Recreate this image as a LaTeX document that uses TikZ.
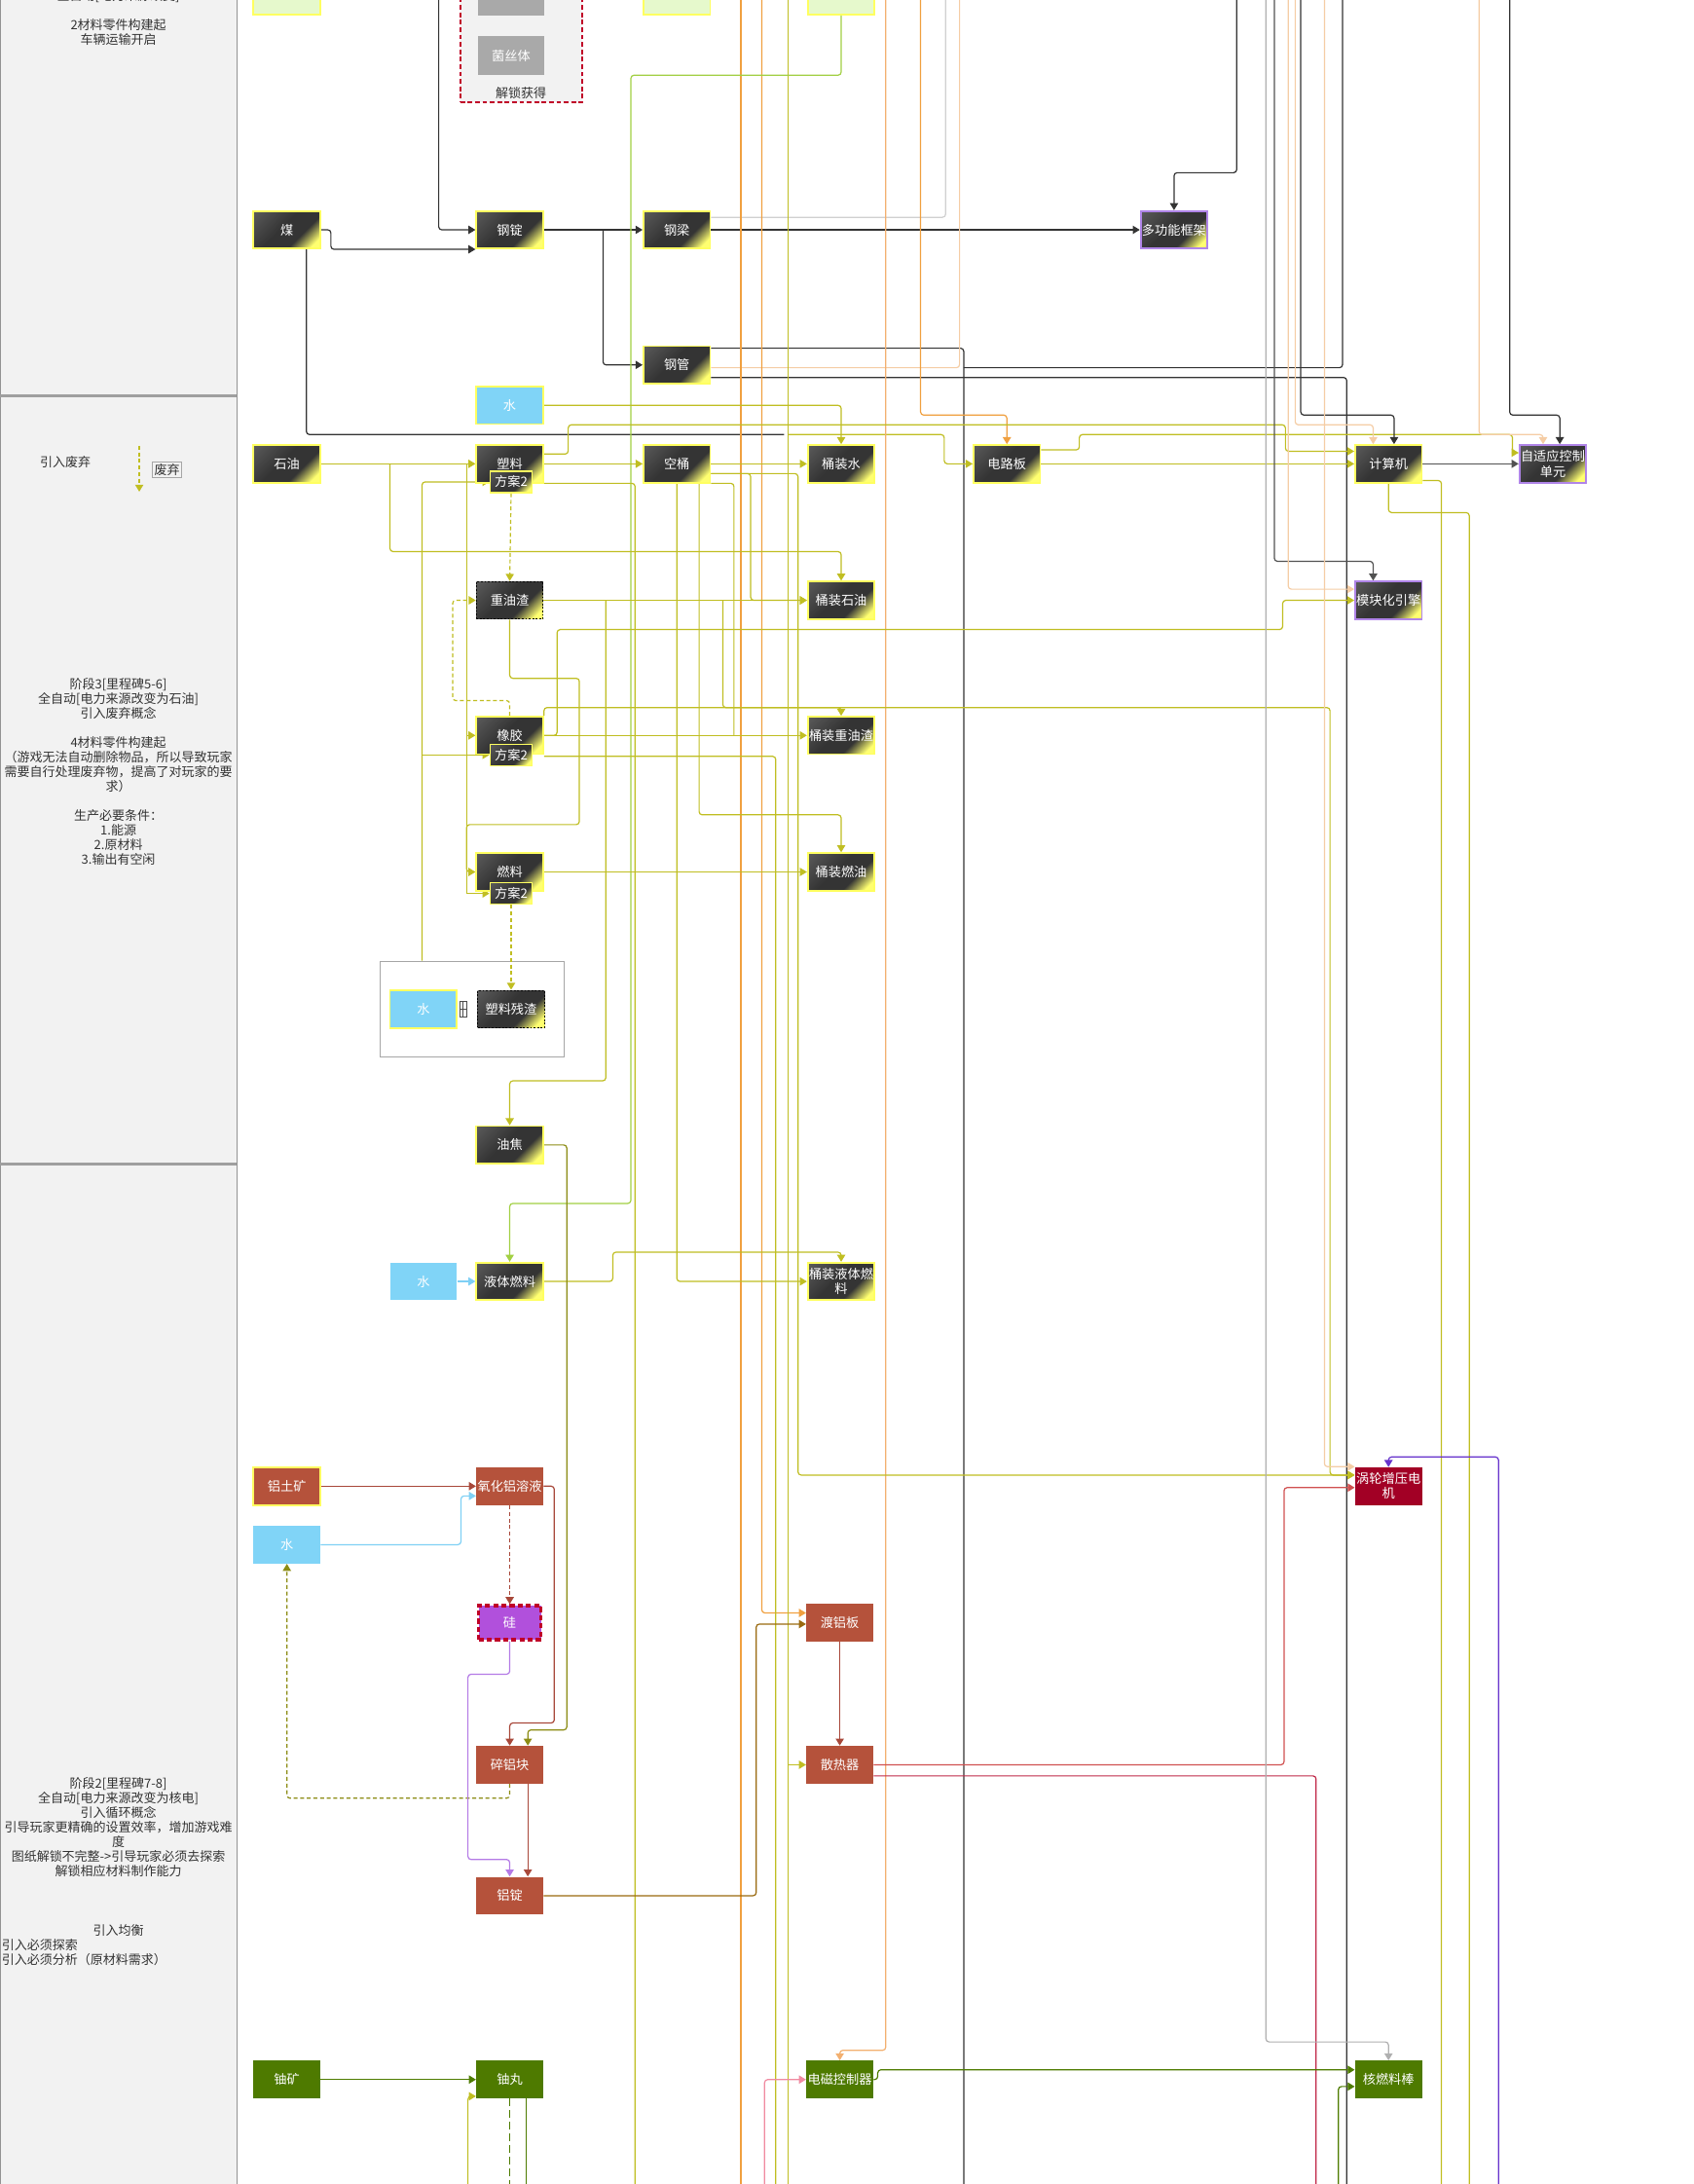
\documentclass[tikz,border=0pt]{standalone}
\usepackage{fontspec}
\newfontfamily\cjk{Noto Sans CJK SC}
\usetikzlibrary{arrows.meta,calc}
\definecolor{dkA}{HTML}{5A5A5A}
\definecolor{dkB}{HTML}{343434}
\definecolor{yelC}{HTML}{FFFF70}
\definecolor{ybord}{HTML}{FFFF60}
\definecolor{pbord}{HTML}{B085E8}
\definecolor{lgreen}{HTML}{E6F9CC}
\definecolor{wblue}{HTML}{80D4F7}
\definecolor{brnN}{HTML}{B5523B}
\definecolor{redN}{HTML}{A20025}
\definecolor{grnN}{HTML}{4E7A00}
\definecolor{siN}{HTML}{B150DC}
\definecolor{siB}{HTML}{C00028}
\definecolor{grayN}{HTML}{A9A9A9}
\definecolor{panel}{HTML}{F2F2F2}
\definecolor{txt}{HTML}{333333}
\definecolor{cY}{HTML}{C0BE22}
\definecolor{cLime}{HTML}{A2D044}
\definecolor{cOrg}{HTML}{F0A040}
\definecolor{cOrgL}{HTML}{F3B070}
\definecolor{cTan}{HTML}{F5CDA5}
\definecolor{cGry}{HTML}{B0B0B0}
\definecolor{cGryL}{HTML}{D0D0D0}
\definecolor{cBlk}{HTML}{333333}
\definecolor{cBrn}{HTML}{A8483A}
\definecolor{cGold}{HTML}{9A6A10}
\definecolor{cOlive}{HTML}{8C8C14}
\definecolor{cBlu}{HTML}{7FD0F5}
\definecolor{cLav}{HTML}{B47BE6}
\definecolor{cRed}{HTML}{D05050}
\definecolor{cCrim}{HTML}{C02848}
\definecolor{cPink}{HTML}{F08AA0}
\definecolor{cPurp}{HTML}{6633CC}
\definecolor{cGrn}{HTML}{4E7C00}
\pgfdeclareverticalshading{darkyel}{100bp}{color(0bp)=(yelC); color(22bp)=(yelC); color(37bp)=(dkB); color(55bp)=(dkB); color(85bp)=(dkA); color(100bp)=(dkA)}
\pgfdeclarelayer{bg}
\pgfdeclarelayer{edges}
\pgfsetlayers{bg,edges,main}
\newcommand\mynf{\cjk\fontsize{6.6pt}{7.6pt}\selectfont}
\newcommand\mypf{\cjk\fontsize{6.5pt}{7.5pt}\selectfont}
\begin{document}
\begin{tikzpicture}[x=0.7155pt,y=-0.7155pt,
 box/.style={rectangle, minimum width=34.3pt, minimum height=19.3pt, inner sep=0pt, align=center, text=white, font=\mynf},
 dk/.style={box, shading=darkyel, shading angle=45, draw=ybord, line width=0.9pt},
 dkp/.style={dk, draw=pbord},
 dkd/.style={box, shading=darkyel, shading angle=45, draw=black, line width=0.6pt, dash pattern=on 0.9pt off 0.9pt},
 subb/.style={dk, minimum width=21.6pt, minimum height=11pt, line width=0.7pt},
 wat/.style={box, fill=wblue},
 waty/.style={box, fill=wblue, draw=ybord, line width=0.9pt},
 brn/.style={box, fill=brnN},
 grn/.style={box, fill=grnN},
 lgr/.style={box, fill=lgreen, draw=ybord, line width=0.9pt},
 gry/.style={box, fill=grayN},
 ln/.style={line width=0.6pt, rounded corners=1.6pt, -{Triangle[width=4.2pt,length=3.6pt]}},
 nl/.style={line width=0.6pt, rounded corners=1.6pt},
 dsh/.style={dash pattern=on 2pt off 1.4pt},
 ptxt/.style={font=\mypf, text=txt, align=center, inner sep=0pt}]
\useasboundingbox (0,0) rectangle (1216,1568);
\begin{pgfonlayer}{bg}
\fill[white] (0,0) rectangle (1216,1568);
\fill[panel] (0,0) rectangle (170,1568);
\draw[gray!85, line width=0.6pt] (0.4,0) -- (0.4,1568) (170.3,0) -- (170.3,1568);
\draw[gray!75, line width=1.4pt] (0,284) -- (170,284) (0,836) -- (170,836);
\node[draw=siB, fill=panel, line width=0.8pt, dash pattern=on 2.4pt off 1.4pt, minimum width=62.6pt, minimum height=66.9pt, inner sep=0pt] (redgrp) at (374.25,26.75) {};
\node[draw=gray!70, fill=white, line width=0.5pt, minimum width=94.4pt, minimum height=49.4pt, inner sep=0pt] (grp) at (339,724.5) {};
\end{pgfonlayer}
% free ends
\coordinate (t315) at (315,-12);
\coordinate (t888) at (888,-12);
\coordinate (t679) at (679,-12);
\coordinate (t689) at (689,-12);
\coordinate (b692) at (692,1580);
\coordinate (j692) at (692,264);
\coordinate (t964) at (964,-12);
\coordinate (b967) at (967,1580);
\coordinate (b456) at (456,1580);
\coordinate (b557) at (557,1580);
\coordinate (t547) at (547,-12);
\coordinate (t532) at (532,-12);
\coordinate (b532) at (532,1580);
\coordinate (t566) at (566,-12);
\coordinate (b566) at (566,1580);
\coordinate (j566) at (566,312);
\coordinate (t636) at (636,-12);
\coordinate (t661) at (661,-12);
\coordinate (e563) at (563,312);
\coordinate (t934) at (934,-12);
\coordinate (t930) at (930,-12);
\coordinate (t915) at (915,-12);
\coordinate (t925) at (925,-12);
\coordinate (t1062) at (1062,-12);
\coordinate (t1084) at (1084,-12);
\coordinate (b1035) at (1035,1580);
\coordinate (b1055) at (1055,1580);
\coordinate (t951) at (951,-12);
\coordinate (b945) at (945,1580);
\coordinate (b1076) at (1076,1580);
\coordinate (t909) at (909,-12);
\coordinate (b961) at (961,1580);
\coordinate (b549) at (549,1580);
\coordinate (b336) at (336,1580);
\coordinate (b366) at (366,1580);
\coordinate (b378) at (378,1580);
\coordinate (lgA) at (100,320);
\coordinate (lgB) at (100,353);
% panel texts
\node[ptxt] (ptop) at (85,12.75) {全自动[电力来源改变]\\[7.5pt]2材料零件构建起\\车辆运输开启};
\node[ptxt] (pfei) at (47,332) {引入废弃};
\node[ptxt, draw=gray!70, line width=0.4pt, inner sep=1pt] (pfei2) at (120,337) {废弃};
\node[ptxt] (pmid) at (85,554) {阶段3[里程碑5-6]\\全自动[电力来源改变为石油]\\引入废弃概念\\[7.5pt]4材料零件构建起\\（游戏无法自动删除物品，所以导致玩家\\需要自行处理废弃物，提高了对玩家的要\\求）\\[7.5pt]生产必要条件：\\1.能源\\2.原材料\\3.输出有空闲};
\node[ptxt] (pbot) at (85,1312) {阶段2[里程碑7-8]\\全自动[电力来源改变为核电]\\引入循环概念\\引导玩家更精确的设置效率，增加游戏难\\度\\图纸解锁不完整->引导玩家必须去探索\\解锁相应材料制作能力};
\node[ptxt] (pjun) at (85,1386) {引入均衡};
\node[ptxt, align=left, anchor=west] (pbot2) at (1,1401.5) {引入必须探索\\引入必须分析（原材料需求）};
% nodes
\node[lgr] (topA) at (206,-3) {};
\node[gry] (topG) at (367,-2) {};
\node[lgr] (topB) at (486,-3) {};
\node[lgr] (topC) at (604,-3) {};
\node[gry, minimum height=20pt] (junsi) at (367,40) {菌丝体};
\node[ptxt] (jiesuo) at (374,67) {解锁获得};
\node[dk] (mei) at (206,165) {煤};
\node[dk] (gangding) at (366,165) {钢锭};
\node[dk] (gangliang) at (486,165) {钢梁};
\node[dkp] (duogong) at (843,165) {多功能框架};
\node[dk] (gangguan) at (486,262) {钢管};
\node[waty] (shui1) at (366,291) {水};
\node[dk] (shiyou) at (206,333) {石油};
\node[dk] (suliao) at (366,333) {塑料};
\node[dk] (kongtong) at (486,333) {空桶};
\node[dk] (tzshui) at (604,333) {桶装水};
\node[dk] (dianlu) at (723,333) {电路板};
\node[dk] (jisuan) at (997,333) {计算机};
\node[dkp] (zishiying) at (1115,333) {自适应控制\\单元};
\node[dkd] (zhongyou) at (366,431) {重油渣};
\node[dk] (tzshiyou) at (604,431) {桶装石油};
\node[dkp] (mokuai) at (997,431) {模块化引擎};
\node[dk] (xiangjiao) at (366,528) {橡胶};
\node[dk] (tzzhongyou) at (604,528) {桶装重油渣};
\node[dk] (ranliao) at (366,626) {燃料};
\node[dk] (tzranyou) at (604,626) {桶装燃油};
\node[subb] (fa1) at (367,346) {方案2};
\node[subb] (fa2) at (367,542) {方案2};
\node[subb] (fa3) at (367,641.5) {方案2};
\node[waty] (shui2) at (304,724.5) {水};
\node[dkd] (canzha) at (367,724.5) {塑料残渣};
\node[draw=black!70, line width=0.4pt, fill=white, minimum width=3.6pt, minimum height=7.6pt, inner sep=0pt] (plusb) at (332.5,724.5) {};
\draw[black!70, line width=0.4pt] (plusb.west) -- (plusb.east) (plusb.north) -- (plusb.south);
\node[dk] (youjiao) at (366,822) {油焦};
\node[wat] (shui3) at (304,920) {水};
\node[dk] (yeti) at (366,920) {液体燃料};
\node[dk] (tzyeti) at (604,920) {桶装液体燃\\料};
\node[brn, draw=ybord, line width=0.9pt] (lvtu) at (206,1067) {铝土矿};
\node[brn] (yanghua) at (366,1067) {氧化铝溶液};
\node[box, fill=redN] (wolun) at (997,1067) {涡轮增压电\\机};
\node[wat] (shui4) at (206,1109) {水};
\node[box, fill=siN, draw=siB, line width=1.6pt, dash pattern=on 2.6pt off 1.6pt, minimum width=32pt, minimum height=17.5pt] (gui) at (366,1165) {硅};
\node[brn] (dulv) at (603,1165) {渡铝板};
\node[brn] (suilv) at (366,1267) {碎铝块};
\node[brn] (sanre) at (603,1267) {散热器};
\node[brn] (lvding) at (366,1361) {铝锭};
\node[grn] (youkuang) at (206,1493) {铀矿};
\node[grn] (youwan) at (366,1493) {铀丸};
\node[grn] (dianci) at (603,1493) {电磁控制器};
\node[grn] (hebang) at (997,1493) {核燃料棒};
\begin{pgfonlayer}{edges}
\draw[ln,cY,dsh] (lgA) -- (lgB);
% steel
\draw[ln,cBlk] (t315) |- (gangding.west);
\draw[ln,cBlk] (mei.east) -- ++(7,0) |- (gangding.west |- 0,179);
\draw[ln,cBlk] (gangding.east) -- (gangliang.west);
\draw[ln,cBlk] (gangding.east -| 433,0) |- (gangguan.west);
\draw[ln,cBlk] (gangliang.east) -- (duogong.west);
\draw[ln,cBlk] (t888) |- (843,124) -- (duogong.north);
\draw[nl,cGryL] (gangliang.east |- 0,156) -| (t679);
\draw[nl,cBlk] (gangguan.east |- 0,250) -| (b692);
\draw[nl,cTan] (gangguan.east |- 0,264) -| (t689);
\draw[nl,cBlk] (j692) -| (t964);
\draw[nl,cBlk] (gangguan.east |- 0,271) -| (b967);
\draw[nl,cBlk] (mei.south -| 220,0) |- (e563);
% long verticals
\draw[nl,cOrg] (t532) -- (b532);
\draw[ln,cOrg] (t547) |- (dulv.west |- 0,1158);
\draw[nl,cY] (t566) -- (b566);
\draw[ln,cY] (j566) -- (678,312) |- (dianlu.west);
\draw[ln,cY] (sanre.west -| 566,0) -- (sanre.west);
\draw[ln,cOrgL] (t636) |- (603,1472) -- (dianci.north);
\draw[ln,cOrg] (t661) |- (723,298) -- (dianlu.north);
\draw[ln,cLime] (topC.south) |- (453,54) -- (453,864) -| (yeti.north);
% water, plastic, barrels
\draw[ln,cY] (shui1.east) -| (tzshui.north);
\draw[ln,cY] (suliao.east |- 0,326) -- (408,326) -- (408,305) -- (923,305) -- (923,324) -- (jisuan.west |- 0,324);
\draw[ln,cY] (shiyou.east) -- (suliao.west);
\draw[ln,cY] (shiyou.east -| 280,0) |- (tzshiyou.north |- 0,396) -- (tzshiyou.north);
\draw[ln,cY] (suliao.east) -- (kongtong.west);
\draw[nl,cY] (suliao.east |- 0,347) -| (b456);
\draw[ln,cY] (kongtong.east) -- (tzshui.west);
\draw[ln,cY] (kongtong.east |- 0,340) -| (539,431) -- (tzshiyou.west);
\draw[nl,cY] (kongtong.east |- 0,347) -| (527,528);
\draw[ln,cY] (kongtong.east |- 0,340) -| (573,1059) -- (wolun.west |- 0,1059);
\draw[ln,cY] (kongtong.south) |- (tzyeti.west);
\draw[ln,cY] (kongtong.south -| 502,0) |- (tzranyou.north |- 0,585) -- (tzranyou.north);
\draw[ln,cY,dsh] (fa1.south) -- (zhongyou.north);
\draw[ln,cY,dsh] (xiangjiao.north) |- (325,503) |- (zhongyou.west);
\draw[ln,cY] (zhongyou.east) -- (tzshiyou.west);
\draw[ln,cY] (zhongyou.east -| 435,0) |- (youjiao.north |- 0,776) -- (youjiao.north);
\draw[ln,cY] (zhongyou.east -| 519,0) |- (tzzhongyou.north |- 0,508) -- (tzzhongyou.north);
\draw[ln,cY] (zhongyou.south) |- (416,487) |- (335,592) -- (ranliao.west -| 335,0) -- (ranliao.west);
\draw[nl,cY] (suliao.west -| 335,0) -- (fa3.west -| 335,0);
\draw[ln,cY] (fa3.west -| 335,0) -- (fa3.west);
\draw[ln,cY] (xiangjiao.west -| 335,0) -- (xiangjiao.west);
\draw[ln,cY] (grp.north -| 303,0) |- (fa1.west);
\draw[ln,cY] (fa2.west -| 303,0) -- (fa2.west);
\draw[ln,cY] (xiangjiao.east) -- (400,528) |- (921,452) |- (mokuai.west);
\draw[ln,cY] (xiangjiao.east) -- (tzzhongyou.west);
\draw[ln,cY] (xiangjiao.north east) |- (955,508) -- (955,1059) -- (wolun.west |- 0,1059);
\draw[nl,cY] (xiangjiao.east |- 0,543) -| (b557);
\draw[ln,cY] (ranliao.east) -- (tzranyou.west);
\draw[ln,cY,dsh] (fa3.south) -- (canzha.north);
\draw[ln,cY] (yeti.east) -- (440,920) |- (tzyeti.north |- 0,899) -- (tzyeti.north);
\draw[ln,cBlu] (shui3.east) -- (yeti.west);
\draw[ln,cOlive] (youjiao.east) -| (407,1242) -- (379,1242) -- (suilv.north -| 379,0);
% aluminium
\draw[ln,cBrn] (lvtu.east) -- (yanghua.west);
\draw[ln,cBlu] (shui4.east) -| (331,1074) -- (yanghua.west |- 0,1074);
\draw[ln,cBrn,dsh] (yanghua.south) -- (gui.north);
\draw[ln,cBrn] (yanghua.east) -| (398,1237) -| (suilv.north);
\draw[ln,cOlive,dsh] (suilv.south) -- (suilv.south |- 0,1291) -| (shui4.south);
\draw[ln,cLav] (gui.south) |- (336,1202) |- (lvding.north |- 0,1335) -- (lvding.north);
\draw[ln,cBrn] (suilv.south -| 379,0) -- (lvding.north -| 379,0);
\draw[ln,cGold] (lvding.east) -| (543,1166) -- (dulv.west |- 0,1166);
\draw[ln,cBrn] (dulv.south) -- (sanre.north);
% right side
\draw[ln,cY] (dianlu.east |- 0,323) -- (775,323) -- (775,312) -- (1086,312) -- (1086,325) -- (zishiying.west |- 0,325);
\draw[ln,cY] (dianlu.east) -- (jisuan.west);
\draw[ln,cBlk!85] (jisuan.east) -- (zishiying.west);
\draw[ln,cBlk] (t934) |- (1001,298) -- (jisuan.north -| 1001,0);
\draw[ln,cTan] (t930) |- (986,305) -- (jisuan.north -| 986,0);
\draw[ln,cBlk!85] (t915) |- (986,403) -- (mokuai.north -| 986,0);
\draw[ln,cTan] (t925) |- (mokuai.west |- 0,423);
\draw[ln,cTan] (t1062) |- (1108,312) -- (zishiying.north -| 1108,0);
\draw[ln,cBlk] (t1084) |- (1120,298) -- (zishiying.north -| 1120,0);
\draw[nl,cY] (jisuan.east |- 0,345) -| (b1035);
\draw[nl,cY] (jisuan.south) |- (1055,368) -- (b1055);
\draw[ln,cTan] (t951) |- (wolun.west |- 0,1053);
\draw[ln,cRed] (sanre.east) -| (922,1068) -- (wolun.west |- 0,1068);
\draw[nl,cCrim] (sanre.east |- 0,1275) -| (b945);
\draw[ln,cPurp] (b1076) |- (wolun.north |- 0,1046) -- (wolun.north);
\draw[ln,cGry] (t909) |- (hebang.north |- 0,1466) -- (hebang.north);
\draw[ln,cGrn] (dianci.east) -- ++(3,0) |- (hebang.west |- 0,1486);
\draw[ln,cGrn] (b961) |- (hebang.west |- 0,1498);
\draw[ln,cPink] (b549) |- (dianci.west);
\draw[ln,cGrn] (youkuang.east) -- (youwan.west);
\draw[ln,cY] (b336) |- (youwan.west |- 0,1505);
\draw[nl,cGrn,dash pattern=on 4pt off 2pt] (youwan.south) -- (b366);
\draw[nl,cGrn] (youwan.south -| 378,0) -- (b378);
\end{pgfonlayer}
\end{tikzpicture}
\end{document}
